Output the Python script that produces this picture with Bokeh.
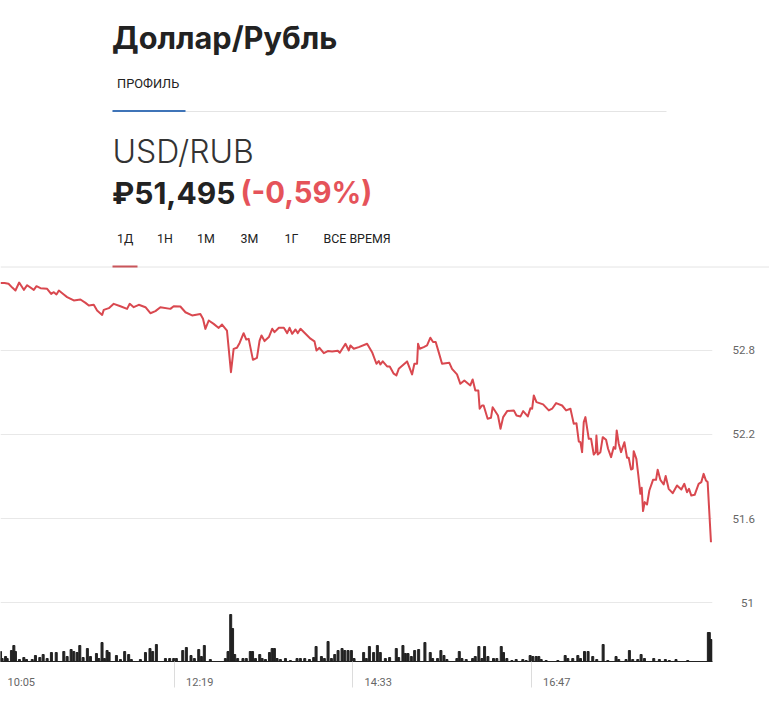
from bokeh.embed import file_html
from bokeh.layouts import column
from bokeh.models import FixedTicker, Label, Range1d
from bokeh.plotting import figure
from bokeh.resources import INLINE

# minutes since 10:05
price_t = [3.4,6.4,9.4,12.4,14.6,17.4,20.9,23.4,28.4,30.4,33.4,38.4,41.4,43.4,45.4,47.2,50.9,53.4,58.4,63.4,67.2,69.7,73.4,75.9,79.7,80.9,84.7,88.4,93.4,98.4,100.4,103.4,107.2,112.2,115.9,119.7,123.4,130.9,133.4,138.4,142.2,147.2,153.4,155.4,157.2,159.7,163.4,167.2,169.7,173.4,176.4,178.4,180.9,182.9,185.9,187.9,189.7,192.9,195.9,197.9,199.35,201.6,204.85,207.35,209.1,212.35,216.1,218.6,220.35,222.35,224.85,226.6,228.6,232.35,236.1,239.1,240.6,242.85,246.1,249.1,252.35,256.6,258.1,262.35,264.85,266.1,268.6,272.35,278.6,282.35,285.6,287.35,288.6,290.35,293.6,295.6,298.6,300.6,302.35,308.6,312.35,314.1,316.1,316.85,318.1,321.1,323.6,326.1,328.1,330.1,332.35,334.85,340.35,342.35,346.1,348.6,351.6,356.1,357.85,359.85,362.1,363.1,364.85,366.1,369.1,371.6,372.85,376.85,378.75,380.75,383.75,388.75,390.75,393.75,395.75,399.25,401.25,402.5,403.75,405.75,410.75,415,417.5,420.5,425,428,431.25,433.75,435.75,437.5,438.75,440,441.25,442.5,445,446.75,448.75,450.25,450.75,451.75,453.75,455.5,458,459.5,461.75,463.75,465,466,467.5,469.25,471.75,473.75,475,476.75,478,478.75,480.75,482.25,483.75,484.75,485.75,487,488.75,490.5,493.25,495.5,496.75,498.75,501.25,502.75,505,508,511.25,514.5,516.75,518.75,520.25,522,524.5,527.5,529.5,531.25,533,534.25,536.75]
price = [53.281,53.281,53.276,53.247,53.228,53.285,53.233,53.266,53.233,53.259,53.245,53.240,53.204,53.216,53.200,53.228,53.200,53.181,53.157,53.164,53.140,53.121,53.126,53.085,53.054,53.090,53.102,53.133,53.116,53.097,53.133,53.109,53.126,53.109,53.066,53.081,53.109,53.097,53.116,53.114,53.073,53.050,53.061,53.026,52.954,53.014,52.990,52.961,52.985,52.942,52.645,52.811,52.819,52.854,52.923,52.878,52.883,52.733,52.747,52.871,52.907,52.867,52.896,52.955,52.931,52.962,52.962,52.924,52.962,52.919,52.950,52.924,52.955,52.919,52.884,52.865,52.800,52.819,52.781,52.796,52.793,52.798,52.784,52.848,52.800,52.836,52.812,52.824,52.848,52.788,52.705,52.724,52.700,52.722,52.686,52.686,52.634,52.622,52.669,52.722,52.629,52.705,52.705,52.848,52.812,52.824,52.836,52.891,52.860,52.860,52.788,52.705,52.712,52.669,52.629,52.562,52.586,52.550,52.593,52.514,52.514,52.384,52.407,52.407,52.312,52.319,52.395,52.336,52.241,52.324,52.367,52.372,52.336,52.329,52.367,52.329,52.388,52.384,52.479,52.431,52.415,52.372,52.384,52.424,52.407,52.372,52.384,52.276,52.281,52.150,52.145,52.074,52.288,52.324,52.169,52.169,52.057,52.074,52.193,52.057,52.074,52.181,52.162,52.098,52.038,52.110,52.098,52.229,52.134,52.074,52.145,52.034,52.034,51.950,51.955,52.081,52.026,51.907,51.776,51.819,51.653,51.717,51.700,51.800,51.876,51.876,51.948,51.876,51.843,51.903,51.812,51.781,51.836,51.807,51.848,51.788,51.812,51.764,51.769,51.848,51.860,51.919,51.871,51.860,51.431]

volume_t = [3.4,4.6,7.2,8.4,11.6,13.4,14.6,17.6,20.9,22.9,27.2,29.6,32.9,35.4,38.4,41.6,45.2,50.9,53.4,56.4,58.4,60.9,62.9,65.4,68.6,70.9,75.4,77.2,79.6,81.4,83.4,84.9,90.4,93.4,96.6,99.6,101.6,108.4,112.2,115.6,117.6,120.4,127.2,130.4,133.4,135.4,140.2,142.9,146.4,148.9,152.2,154.2,156.4,160.9,172.2,174.2,176.2,177.6,179.2,181.4,185.4,187.9,190.9,192.6,194.8,198,199.8,202.3,205.3,207.3,209,211,213.5,217.3,221,226,228.5,231.8,235.3,238.5,240.3,244.3,246.5,249.3,251.8,254.3,256.8,259.8,261.8,264.3,266.8,268.8,276,278,280.3,283.5,286.3,288.5,292.3,295.5,300.5,302.3,305.5,307.3,309.3,311.8,314.3,317.3,322,326,327.8,331.5,334,336.3,338.5,346,347.8,349.8,353,357.8,359.8,362.5,364.8,366.8,369.3,373.5,376,379.3,381,383.5,387.3,390.5,395.5,398,401,403,405.5,407.5,409.3,413,421.8,427.3,429.3,433,436.8,438.8,441.8,444.5,448,451,455.8,459.3,465.5,467.5,473,475.5,478,481.8,484.3,486.8,493.8,498,502.5,505.5,510.5,519.3,534.8,535.5,536.8]
volume = [10,3,5,3,11,16,10,2,4,2,2,6,4,7,3,9,9,10,5,12,10,9,16,4,13,5,8,3,19,3,11,9,6,2,10,7,2,2,9,13,10,17,3,3,3,3,11,14,6,3,12,5,16,2,3,10,47,33,7,3,3,3,10,10,3,7,3,2,9,13,13,3,2,3,1,3,3,3,2,4,15,5,3,20,3,7,11,13,11,11,11,3,9,3,15,9,16,9,3,4,13,4,16,8,8,5,11,12,19,9,3,3,11,6,2,3,10,3,2,3,5,15,3,15,5,3,3,15,9,3,1,2,2,1,6,5,5,5,2,1,1,6,3,3,6,3,10,10,5,2,17,1,5,2,2,11,2,2,7,3,3,2,2,1,2,1,29,29,22]

time_ticks = [0, 134, 268, 402]
time_labels = ["10:05", "12:19", "14:33", "16:47"]
price_ticks = [51, 51.6, 52.2, 52.8]
price_labels = ["51", "51.6", "52.2", "52.8"]

title = "Доллар/Рубль"
tab_profile = "ПРОФИЛЬ"
pair = "USD/RUB"
quote = "₽51,495"
change = "(-0,59%)"
periods = ["1Д", "1Н", "1М", "3М", "1Г", "ВСЕ ВРЕМЯ"]
period_x = [116.5, 156.5, 196.5, 240, 284, 323]

RED = "#d9484f"
INK = "#222222"
RULE = "#e4e4e4"
LABEL_SHIFT = 19  # tick labels sit to the right of their tick
NBSP = "\u00a0"

# header: data coordinates equal page pixels
head = figure(width=769, height=270, x_range=(0, 769), y_range=(270, 0),
              output_backend="svg", toolbar_location=None, min_border=0)
head.frame_align = False
head.axis.visible = False
head.grid.visible = False
head.outline_line_color = None


def text(x, y, s, size, color=INK, font="Roboto", style="normal"):
    head.add_layout(Label(x=x, y=y, text=s, text_font=font, text_font_size=f"{size}px",
                          text_color=color, text_font_style=style,
                          text_baseline="middle", text_align="left"))


text(111.5, 37, title, 30.7, font="Inter", style="bold")
text(116.5, 83, tab_profile, 12.8)
text(112, 151, pair, 32, color="#333333", font="Inter Light")
text(111.5, 192, quote, 30, font="Inter", style="bold")
text(240, 192, change, 29.3, color="#e5535a", font="Inter", style="bold")
for x, s in zip(period_x, periods):
    text(x, 238, s, 12.4)

head.segment([112], [111], [666], [111], line_color=RULE, line_width=1)
head.segment([112], [110.5], [185], [110.5], line_color="#3f74b8", line_width=2)
head.segment([0], [266.5], [769], [266.5], line_color=RULE, line_width=1)
head.segment([112], [266], [137], [266], line_color="#c9555a", line_width=2)

# chart
chart = figure(width=769, height=444, x_range=Range1d(3.38, 537.9), y_range=Range1d(50.579, 53.371),
               y_axis_location="right", output_backend="svg", toolbar_location=None,
               min_border_left=0, min_border_top=0, min_border_right=57, min_border_bottom=53)
chart.frame_align = False
chart.outline_line_color = None
chart.extra_y_ranges = {"volume": Range1d(0, 391)}

chart.vbar(x=volume_t, top=volume, bottom=0, width=1.5, color=INK, y_range_name="volume")
chart.line(price_t, price, line_color=RED, line_width=2, line_join="round")

xa = chart.xaxis[0]
xa.ticker = FixedTicker(ticks=[t + LABEL_SHIFT for t in time_ticks], minor_ticks=time_ticks)
xa.major_label_overrides = {t + LABEL_SHIFT: s for t, s in zip(time_ticks, time_labels)}
xa.major_tick_line_color = None
xa.major_tick_out = 0
xa.minor_tick_in = 0
xa.minor_tick_out = 26
xa.minor_tick_line_color = "#dcdcdc"
xa.axis_line_color = INK
xa.major_label_standoff = -12
xa.major_label_text_font = "Roboto"
xa.major_label_text_font_size = "11px"
xa.major_label_text_color = "#666666"

ya = chart.yaxis[0]
ya.ticker = FixedTicker(ticks=price_ticks)
# the integer label is centred under the others in the reference
ya.major_label_overrides = {t: (NBSP * 3 + s if t == 51 else s) for t, s in zip(price_ticks, price_labels)}
ya.major_tick_line_color = None
ya.minor_tick_line_color = None
ya.axis_line_color = None
ya.major_label_standoff = 14
ya.major_label_text_font = "Roboto"
ya.major_label_text_font_size = "11.5px"
ya.major_label_text_color = "#666666"

chart.xgrid.visible = False
chart.ygrid[0].ticker = FixedTicker(ticks=price_ticks)
chart.ygrid[0].grid_line_color = "#e8e8e8"

page = column(head, chart, spacing=0)
open("out.html", "w").write(file_html(page, INLINE))
